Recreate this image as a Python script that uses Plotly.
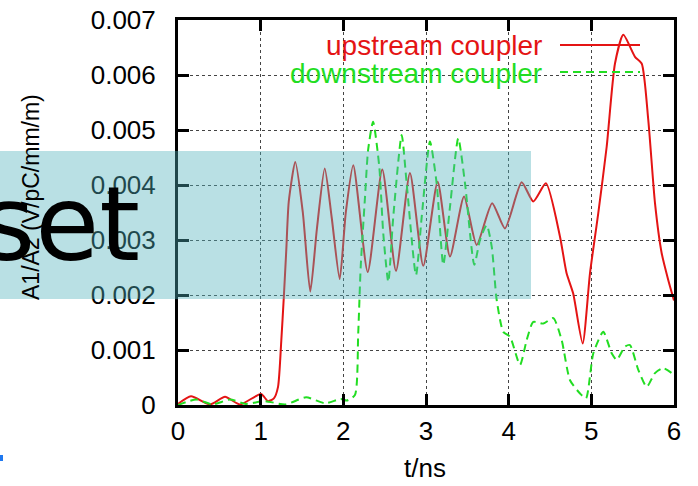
import plotly.graph_objects as go

# ---------------- data ----------------
up_t = [0.0, 0.157, 0.387, 0.569, 0.75, 1.004, 1.089, 1.16, 1.21, 1.25, 1.28, 1.31, 1.34,
        1.419, 1.51, 1.60, 1.68, 1.775, 1.86, 1.956, 2.03, 2.12, 2.295, 2.471, 2.637,
        2.806, 2.967, 3.141, 3.29, 3.46, 3.613, 3.80, 3.955, 4.157, 4.298, 4.451, 4.621,
        4.70, 4.78, 4.895, 4.984, 5.084, 5.186, 5.286, 5.387, 5.528, 5.609, 5.689, 5.77,
        5.851, 5.931, 6.0]
up_v = [0.00002, 0.00016, 0.00001, 0.00015, 0.00001, 0.0002, 0.00007, 0.00012, 0.00033,
        0.00118, 0.00196, 0.00282, 0.0037, 0.00442, 0.0035, 0.00206, 0.0032, 0.0043,
        0.0034, 0.00229, 0.0035, 0.00436, 0.00242, 0.00428, 0.00244, 0.00422, 0.00253,
        0.00406, 0.0027, 0.00379, 0.00291, 0.00367, 0.00321, 0.00405, 0.0037, 0.00403,
        0.00306, 0.0024, 0.00203, 0.00112, 0.0024, 0.00349, 0.0047, 0.00621, 0.00673,
        0.00633, 0.00621, 0.00518, 0.00367, 0.00276, 0.00227, 0.0019]

down_t = [0.0, 0.22, 0.42, 0.63, 0.82, 1.05, 1.30, 1.55, 1.78, 1.97, 2.04, 2.14, 2.18,
          2.21, 2.26, 2.30, 2.36, 2.435, 2.483, 2.544, 2.604, 2.706, 2.766, 2.879, 2.948,
          3.048, 3.129, 3.209, 3.29, 3.39, 3.472, 3.584, 3.653, 3.734, 3.795, 3.855,
          3.935, 4.016, 4.137, 4.218, 4.298, 4.419, 4.54, 4.641, 4.742, 4.863, 4.935,
          5.024, 5.145, 5.246, 5.307, 5.407, 5.467, 5.568, 5.67, 5.77, 5.87, 6.0]
down_v = [0.0, 0.0001, 0.00001, 0.0001, 0.00002, 0.00007, 0.00001, 0.00014, 0.00003,
          0.00011, 0.00008, 0.00018, 0.0013, 0.00251, 0.00373, 0.00464, 0.00515, 0.00433,
          0.00312, 0.00224, 0.00342, 0.00491, 0.00403, 0.00236, 0.00342, 0.00479, 0.00403,
          0.00255, 0.0036, 0.00485, 0.00403, 0.00255, 0.003, 0.00327, 0.00288, 0.00191,
          0.00133, 0.00124, 0.00073, 0.00118, 0.00151, 0.00148, 0.00158, 0.00118, 0.00045,
          0.00021, 0.00012, 0.00094, 0.00133, 0.00094, 0.00082, 0.00106, 0.00109, 0.00064,
          0.00033, 0.00058, 0.00067, 0.00055]

x_ticks = [0, 1, 2, 3, 4, 5, 6]
x_ticktext = ["0", "1", "2", "3", "4", "5", "6"]
y_ticks = [0, 0.001, 0.002, 0.003, 0.004, 0.005, 0.006, 0.007]
y_ticktext = ["0", "0.001", "0.002", "0.003", "0.004", "0.005", "0.006", "0.007"]

series_names = ["upstream coupler", "downstream coupler"]
x_title = "t/ns"
y_title = "A1/A2 (V/pC/mm/m)"
overlay_text = "set"

# ---------------- layout helpers ----------------
W, H = 698, 486
L, R, T, B = 178, 674, 20, 405
RED = "#e41414"
GREEN = "#22dd22"
FONT = "Liberation Sans, Arial, sans-serif"


def px_x(p):
    return (p - L) / (R - L)


def px_y(p):
    return (B - p) / (B - T)


fig = go.Figure()
fig.add_trace(go.Scatter(x=up_t, y=up_v, mode="lines", name=series_names[0],
                         line=dict(color=RED, width=2, shape="spline", smoothing=0.6),
                         showlegend=False))
fig.add_trace(go.Scatter(x=down_t, y=down_v, mode="lines", name=series_names[1],
                         line=dict(color=GREEN, width=2, shape="spline", smoothing=0.6,
                                   dash="8px,5px"),
                         showlegend=False))

axis_common = dict(
    showline=True, linecolor="black", linewidth=3, mirror="ticks",
    ticks="inside", ticklen=11, tickwidth=3, tickcolor="black",
    showgrid=True, gridcolor="#444", gridwidth=1, griddash="dot",
    zeroline=False, automargin=False,
    tickfont=dict(family=FONT, size=26, color="black"),
)

fig.update_xaxes(range=[0, 6], tickvals=x_ticks, ticktext=x_ticktext,
                 ticklabelstandoff=1, **axis_common)
fig.update_yaxes(range=[0, 0.007], tickvals=y_ticks, ticktext=y_ticktext,
                 ticklabelstandoff=14, **axis_common)

fig.update_layout(
    width=W, height=H, autosize=False,
    margin=dict(l=L, r=W - R, t=T, b=H - B, pad=0, autoexpand=False),
    paper_bgcolor="white", plot_bgcolor="white",
    font=dict(family=FONT, color="black"),
)

# axis titles
fig.add_annotation(x=px_x(425), y=px_y(468), xref="paper", yref="paper",
                   text=x_title, showarrow=False, font=dict(size=26, family=FONT),
                   xanchor="center", yanchor="middle")
fig.add_annotation(x=px_x(31), y=px_y(197), xref="paper", yref="paper",
                   text=y_title, showarrow=False, textangle=-90,
                   font=dict(size=23, family=FONT), xanchor="center", yanchor="middle")

# legend (gnuplot style: text left, sample right)
fig.add_annotation(x=px_x(544), y=px_y(45), xref="paper", yref="paper",
                   text=series_names[0], showarrow=False,
                   font=dict(size=28, family=FONT, color=RED),
                   xanchor="right", yanchor="middle")
fig.add_annotation(x=px_x(544), y=px_y(73), xref="paper", yref="paper",
                   text=series_names[1], showarrow=False,
                   font=dict(size=28, family=FONT, color=GREEN),
                   xanchor="right", yanchor="middle")
fig.add_shape(type="line", xref="paper", yref="paper",
              x0=px_x(560), x1=px_x(640), y0=px_y(45), y1=px_y(45),
              line=dict(color=RED, width=2))
fig.add_shape(type="line", xref="paper", yref="paper",
              x0=px_x(560), x1=px_x(640), y0=px_y(72), y1=px_y(72),
              line=dict(color=GREEN, width=2, dash="8px,5px"))

# key area hides grid lines (under the traces)
try:
    fig.add_shape(type="rect", xref="paper", yref="paper",
                  x0=px_x(470), x1=px_x(662), y0=px_y(88), y1=px_y(22),
                  fillcolor="white", line=dict(width=0), layer="between")
except Exception:
    pass

# translucent hatched overlay band
fig.add_shape(type="rect", xref="paper", yref="paper",
              x0=px_x(0), x1=px_x(531), y0=px_y(299), y1=px_y(151),
              fillcolor="rgba(80,178,188,0.40)", line=dict(width=0), layer="above")

# large overlay text
fig.add_annotation(x=px_x(142), y=px_y(224), xref="paper", yref="paper",
                   text=overlay_text, showarrow=False,
                   font=dict(size=104, family="DejaVu Sans", color="black"),
                   xanchor="right", yanchor="middle")

# small blue mark at the bottom-left edge
fig.add_shape(type="rect", xref="paper", yref="paper",
              x0=px_x(0), x1=px_x(3), y0=px_y(461), y1=px_y(455),
              fillcolor="#1e78f0", line=dict(width=0))

fig.write_html("out.html")
